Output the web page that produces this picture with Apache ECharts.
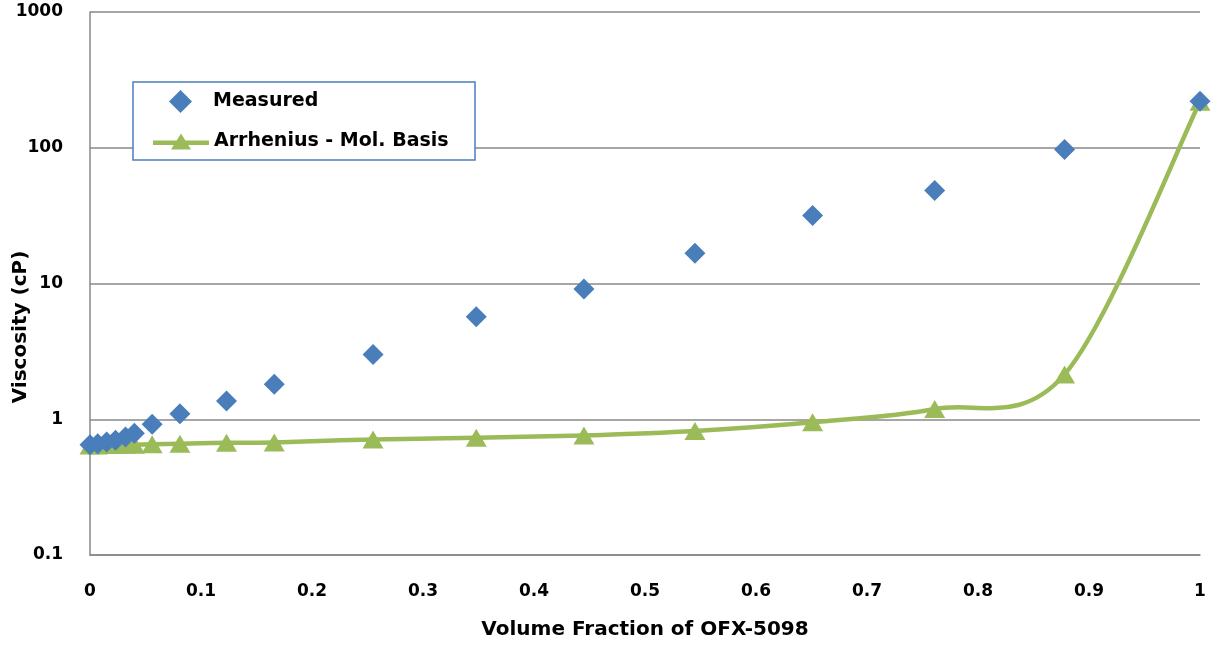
<!DOCTYPE html>
<html>
<head>
<meta charset="utf-8">
<script src="https://cdn.jsdelivr.net/npm/echarts@6/dist/echarts.min.js"></script>
<style>
html,body{margin:0;padding:0;background:#fff;}
#chart{width:1215px;height:653px;}
</style>
</head>
<body>
<div id="chart"></div>
<script>
// Data
const volumeFraction = [0, 0.007, 0.015, 0.023, 0.032, 0.040, 0.056, 0.081, 0.123, 0.166, 0.255, 0.348, 0.445, 0.545, 0.651, 0.761, 0.878, 1.0];
const measured = [0.65, 0.66, 0.68, 0.70, 0.74, 0.79, 0.92, 1.1, 1.36, 1.81, 3.0, 5.7, 9.1, 16.7, 31.7, 48.5, 97, 220];
const arrhenius = [0.64, 0.64, 0.645, 0.645, 0.65, 0.65, 0.655, 0.66, 0.67, 0.675, 0.71, 0.73, 0.76, 0.82, 0.95, 1.19, 2.14, 218];
const xTicks = ['0','0.1','0.2','0.3','0.4','0.5','0.6','0.7','0.8','0.9','1'];
const yTicks = ['0.1','1','10','100','1000'];
const seriesNames = ['Measured', 'Arrhenius - Mol. Basis'];
const xTitle = 'Volume Fraction of OFX-5098';
const yTitle = 'Viscosity (cP)';

const FONT = '"DejaVu Sans", sans-serif';
const BLUE = '#4a7ebb';
const GREEN = '#9bbb59';
const chart = echarts.init(document.getElementById('chart'));

const pairs = (ys) => volumeFraction.map((x, i) => [x, ys[i]]);

// Excel-style smoothed line (Catmull-Rom through points in pixel space)
function renderSmoothLine(params, api) {
  const pts = volumeFraction.map((x, i) => api.coord([x, arrhenius[i]]));
  const n = pts.length;
  const children = [];
  for (let i = 0; i < n - 1; i++) {
    const p0 = pts[Math.max(i - 1, 0)];
    const p1 = pts[i];
    const p2 = pts[i + 1];
    const p3 = pts[Math.min(i + 2, n - 1)];
    children.push({
      type: 'bezierCurve',
      shape: {
        x1: p1[0], y1: p1[1],
        cpx1: p1[0] + (p2[0] - p0[0]) / 6, cpy1: p1[1] + (p2[1] - p0[1]) / 6,
        cpx2: p2[0] - (p3[0] - p1[0]) / 6, cpy2: p2[1] - (p3[1] - p1[1]) / 6,
        x2: p2[0], y2: p2[1]
      },
      style: { stroke: GREEN, lineWidth: 4.5, fill: null, lineCap: 'round' }
    });
  }
  return { type: 'group', children: children };
}

const lineTriIcon = 'path://M0,7 L23.6,7 L28,0 L32.4,7 L56,7 L56,11.5 L35.2,11.5 L38,16 L18,16 L20.8,11.5 L0,11.5 Z';
const legendText = { fontFamily: FONT, fontWeight: 'bold', fontSize: 19, color: '#000' };

chart.setOption({
  animation: false,
  backgroundColor: '#ffffff',
  grid: { left: 90, right: 15, top: 12, bottom: 98 },
  legend: [
    {
      data: [{ name: seriesNames[0], icon: 'diamond' }],
      left: 169,
      top: 90,
      itemWidth: 23,
      itemHeight: 23,
      padding: 0,
      textStyle: Object.assign({ padding: [0, 0, 0, 16] }, legendText)
    },
    {
      data: [{ name: seriesNames[1], icon: lineTriIcon }],
      left: 153,
      top: 132,
      itemWidth: 56,
      itemHeight: 20,
      symbolKeepAspect: true,
      padding: 0,
      textStyle: legendText
    }
  ],
  xAxis: {
    type: 'value',
    min: 0, max: 1, interval: 0.1,
    axisLine: { show: true, lineStyle: { color: '#888888', width: 1.5 } },
    axisTick: { show: false },
    splitLine: { show: false },
    axisLabel: {
      margin: 28,
      fontFamily: FONT, fontWeight: 'bold', fontSize: 17, color: '#000',
      formatter: (v) => xTicks[Math.round(v * 10)]
    },
    name: xTitle,
    nameLocation: 'middle',
    nameGap: 65,
    nameTextStyle: { fontFamily: FONT, fontWeight: 'bold', fontSize: 20, color: '#000' }
  },
  yAxis: {
    type: 'log',
    logBase: 10,
    min: 0.1, max: 1000,
    axisLine: { show: true, lineStyle: { color: '#888888', width: 1.5 } },
    axisTick: { show: false },
    minorTick: { show: false },
    splitLine: { show: true, lineStyle: { color: '#888888', width: 1.5 } },
    axisLabel: {
      margin: 27,
      fontFamily: FONT, fontWeight: 'bold', fontSize: 17, color: '#000',
      formatter: (v) => yTicks[Math.round(Math.log10(v)) + 1]
    }
  },
  graphic: [
    {
      type: 'rect',
      z: 3,
      shape: { x: 133, y: 82, width: 342, height: 78 },
      style: { fill: '#ffffff', stroke: BLUE, lineWidth: 1.5 }
    },
    {
      type: 'text',
      rotation: Math.PI / 2,
      x: 21, y: 327,
      style: {
        text: yTitle,
        fontFamily: FONT, fontWeight: 'bold', fontSize: 20, fill: '#000',
        textAlign: 'center', textVerticalAlign: 'middle'
      }
    }
  ],
  series: [
    {
      name: 'smooth-curve',
      type: 'custom',
      renderItem: renderSmoothLine,
      data: [[0, 1]],
      silent: true,
      z: 2
    },
    {
      name: seriesNames[1],
      type: 'line',
      data: pairs(arrhenius),
      symbol: 'triangle',
      symbolSize: [21, 18],
      showSymbol: true,
      itemStyle: { color: GREEN, opacity: 1 },
      lineStyle: { width: 0, opacity: 0 },
      z: 3
    },
    {
      name: seriesNames[0],
      type: 'scatter',
      data: pairs(measured),
      symbol: 'diamond',
      symbolSize: [21, 21],
      itemStyle: { color: BLUE, opacity: 1 },
      z: 4
    }
  ]
});
</script>
</body>
</html>
